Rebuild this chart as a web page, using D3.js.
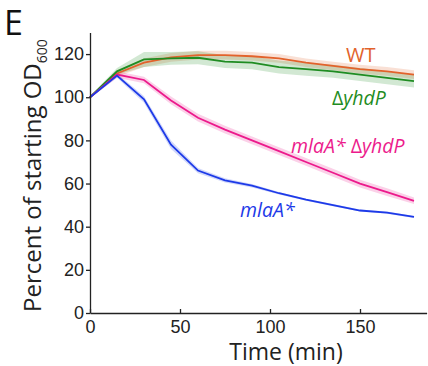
<!DOCTYPE html>
<meta charset="utf-8">
<head>
  <style>
    body { margin: 0; background: #fff; }
    svg { font-family: "Open Sans", sans-serif; }
    .tick text { font-size: 18px; fill: #222; }
    .domain, .tick line { stroke: #222; stroke-width: 1.3px; }
  </style>
</head>
<body>
<svg id="chart" width="428" height="366"></svg>
<script src="https://d3js.org/d3.v7.min.js"></script>
<script>

var times = [0, 15, 30, 45, 60, 75, 90, 105, 120, 135, 150, 165, 180];

var wt      = [100, 111, 116, 118.5, 119.5, 119.5, 119, 118, 116, 114.5, 113, 112, 110.5];
var wtErr   = [0.5, 1.5, 2, 2, 2, 2, 2, 2, 2, 2, 2, 2, 2];
var yhdP    = [100, 112, 117.5, 118, 118.3, 116.5, 116, 114, 113, 112, 110.5, 109, 107.5];
var yhdPErr = [0.5, 1.5, 3.5, 3, 3, 3, 3, 3, 3, 3, 3, 3, 3];
var dbl     = [100, 110.5, 108, 98.5, 90.5, 85, 80, 75, 70, 65, 60, 56, 52];
var dblErr  = [0.5, 1.5, 1.5, 1.8, 1.8, 1.8, 1.8, 1.8, 1.8, 1.8, 1.8, 1.8, 1.5];
var mla     = [100, 110, 99, 78, 66, 61.5, 59, 55.5, 52.5, 50, 47.5, 46.5, 44.5];
var mlaErr  = [0.5, 1, 1.5, 2, 1.2, 1, 0.8, 0.6, 0.5, 0.5, 0.5, 0.5, 0.5];

var xTicks = [0, 50, 100, 150];
var yTicks = [0, 20, 40, 60, 80, 100, 120];

var series = [
  { name: "WT", vals: wt, err: wtErr, color: "#e2622b" },
  { name: "yhdP", vals: yhdP, err: yhdPErr, color: "#1f8c22" },
  { name: "dbl", vals: dbl, err: dblErr, color: "#ec1a8c" },
  { name: "mla", vals: mla, err: mlaErr, color: "#1d3ae8" }
];

var svg = d3.select("#chart");

var x = d3.scaleLinear().domain([0, 187]).range([90, 426.6]);
var y = d3.scaleLinear().domain([0, 130]).range([313, 32.5]);

// bands first, then lines on top
var area = d3.area()
  .x(function(d, i) { return x(times[i]); })
  .y0(function(d) { return y(d[0]); })
  .y1(function(d) { return y(d[1]); });

var line = d3.line()
  .x(function(d, i) { return x(times[i]); })
  .y(function(d) { return y(d); });

series.forEach(function(s) {
  var band = s.vals.map(function(v, i) { return [v - s.err[i], v + s.err[i]]; });
  svg.append("path")
    .attr("d", area(band))
    .attr("fill", s.color)
    .attr("fill-opacity", 0.2);
});

series.forEach(function(s) {
  svg.append("path")
    .attr("d", line(s.vals))
    .attr("fill", "none")
    .attr("stroke", s.color)
    .attr("stroke-width", 1.8);
});

// axes
svg.append("g")
  .attr("transform", "translate(0," + y(0) + ")")
  .call(d3.axisTop(x).tickValues(xTicks).tickSize(4).tickSizeOuter(0))
  .call(function(g) {
    g.selectAll(".tick text").attr("y", 7).attr("dy", "0.71em");
  });

svg.append("g")
  .attr("transform", "translate(" + x(0) + ",0)")
  .call(d3.axisLeft(y).tickValues(yTicks).tickSize(4).tickSizeOuter(0).tickPadding(2));

// series labels
svg.append("text").attr("x", 346).attr("y", 62)
  .attr("font-size", 20).attr("fill", "#e2622b").text("WT");

var t1 = svg.append("text").attr("x", 332).attr("y", 105)
  .attr("font-size", 19.5).attr("fill", "#1f8c22");
t1.append("tspan").text("\u0394");
t1.append("tspan").attr("font-style", "italic").text("yhdP");

var t2 = svg.append("text").attr("x", 291).attr("y", 153)
  .attr("font-size", 19.5).attr("fill", "#ec1a8c");
t2.append("tspan").attr("font-style", "italic").text("mlaA*");
t2.append("tspan").text(" \u0394");
t2.append("tspan").attr("font-style", "italic").text("yhdP");

svg.append("text").attr("x", 240).attr("y", 217)
  .attr("font-size", 19.5).attr("font-style", "italic").attr("fill", "#1d3ae8").text("mlaA*");

// axis titles
svg.append("text")
  .attr("x", 286).attr("y", 360)
  .attr("text-anchor", "middle")
  .attr("font-size", 23).attr("fill", "#222")
  .text("Time (min)");

var yt = svg.append("text")
  .attr("transform", "translate(41,312) rotate(-90)")
  .attr("font-size", 24).attr("fill", "#222");
yt.append("tspan").text("Percent of starting OD");
yt.append("tspan").attr("font-size", 14).attr("dy", 6).text("600");

svg.append("text").attr("x", 4).attr("y", 35)
  .attr("font-size", 34).attr("fill", "#111").text("E");

</script>
